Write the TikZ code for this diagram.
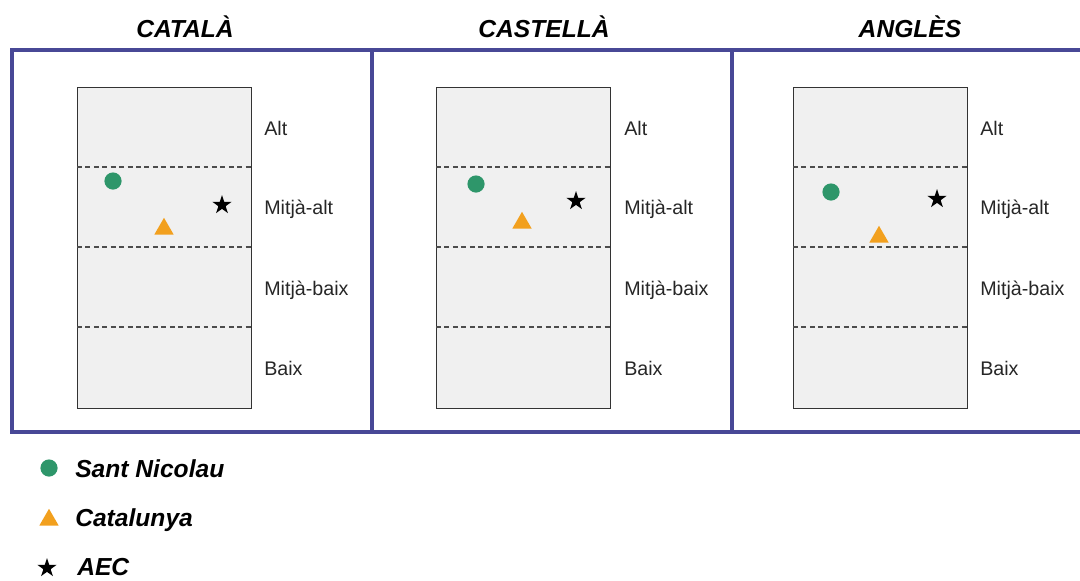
\documentclass[tikz,border=0pt]{standalone}
\usepackage{fontspec}
\setmainfont{Liberation Sans}
\usetikzlibrary{shapes.geometric}
\definecolor{framecol}{RGB}{72,72,150}
\definecolor{nicolaucol}{RGB}{46,150,106}
\definecolor{catcol}{RGB}{242,160,30}
\tikzset{
  panel/.style={draw=framecol, line width=2.2pt},
  levelbox/.style={draw=black!80, fill=black!6, line width=0.7pt},
  levelline/.style={draw=black!70, line width=0.9pt, dash pattern=on 3.5pt off 2.5pt},
  levellabel/.style={anchor=base west, inner sep=0pt, text=black!85, font=\fontsize{14}{16}\selectfont},
  paneltitle/.style={anchor=base, inner sep=0pt, font=\fontsize{17.5}{20}\selectfont\bfseries\itshape},
  legendtext/.style={anchor=base west, inner sep=0pt, font=\fontsize{17.5}{20}\selectfont\bfseries\itshape},
  nicolau/.style={circle, fill=nicolaucol, inner sep=0pt, minimum size=0.43cm},
  catalunya/.style={regular polygon, regular polygon sides=3, fill=catcol, inner sep=0pt, minimum size=0.56cm},
  aec/.style={star, star points=5, star point ratio=2.6, fill=black, inner sep=0pt, minimum size=0.5cm},
}
\begin{document}
\begin{tikzpicture}[x=0.025cm, y=-0.025cm]
  \useasboundingbox (0,0) rectangle (1080,580);
  \clip (0,0) rectangle (1080,580);

  % frame
  \draw[panel] (12,50) rectangle (1095,432);
  \draw[panel] (372,50) -- (372,432);
  \draw[panel] (732,50) -- (732,432);

  % catala
  \node[paneltitle] (tcat) at (185,37) {CATALÀ};
  \draw[levelbox] (77,87) rectangle (251,408);
  \foreach \y in {167,247,327}
    \draw[levelline] (77,\y) -- (251,\y);
  \foreach \n/\txt/\y in {a/Alt/135, ma/Mitjà-alt/214, mb/Mitjà-baix/295, b/Baix/375}
    \node[levellabel] (cat-\n) at (264,\y) {\txt};
  \node[nicolau] (cat-sn) at (113,181) {};
  \node[catalunya] (cat-ct) at (164,229) {};
  \node[aec] (cat-aec) at (222,205) {};

  % castella
  \node[paneltitle] (tcas) at (544,37) {CASTELLÀ};
  \draw[levelbox] (436,87) rectangle (610,408);
  \foreach \y in {167,247,327}
    \draw[levelline] (436,\y) -- (610,\y);
  \foreach \n/\txt/\y in {a/Alt/135, ma/Mitjà-alt/214, mb/Mitjà-baix/295, b/Baix/375}
    \node[levellabel] (cas-\n) at (624,\y) {\txt};
  \node[nicolau] (cas-sn) at (476,184) {};
  \node[catalunya] (cas-ct) at (522,223) {};
  \node[aec] (cas-aec) at (576,201) {};

  % angles
  \node[paneltitle] (tang) at (910,37) {ANGLÈS};
  \draw[levelbox] (793,87) rectangle (967,408);
  \foreach \y in {167,247,327}
    \draw[levelline] (793,\y) -- (967,\y);
  \foreach \n/\txt/\y in {a/Alt/135, ma/Mitjà-alt/214, mb/Mitjà-baix/295, b/Baix/375}
    \node[levellabel] (ang-\n) at (980,\y) {\txt};
  \node[nicolau] (ang-sn) at (831,192) {};
  \node[catalunya] (ang-ct) at (879,237) {};
  \node[aec] (ang-aec) at (937,199) {};

  % legend
  \node[nicolau] (leg-sn) at (49,468) {};
  \node[legendtext] (leg-sntxt) at (75,477) {Sant Nicolau};
  \node[catalunya] (leg-ct) at (49,520) {};
  \node[legendtext] (leg-cttxt) at (75,526) {Catalunya};
  \node[aec] (leg-aec) at (47,568) {};
  \node[legendtext] (leg-aectxt) at (77,575) {AEC};
\end{tikzpicture}
\end{document}
